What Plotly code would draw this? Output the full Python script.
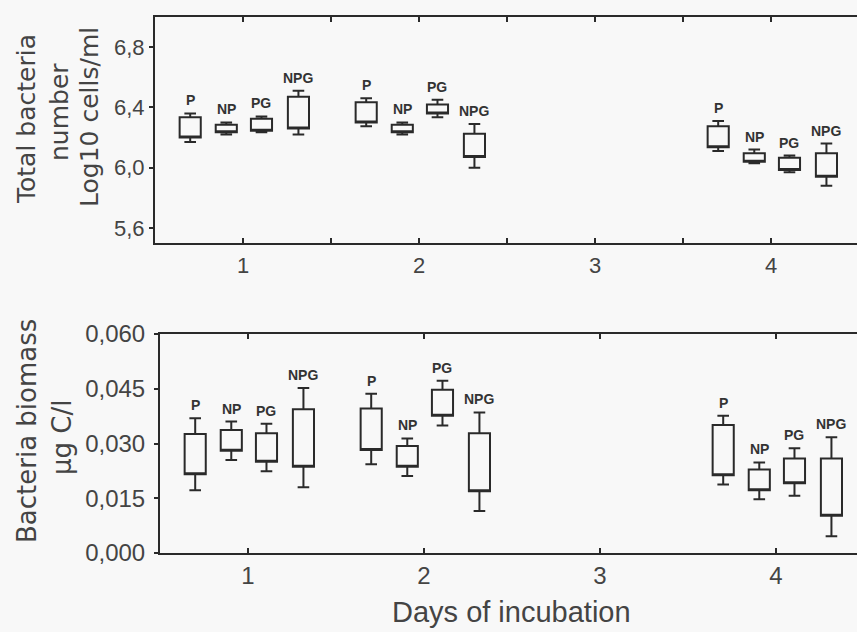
import plotly.graph_objects as go

W, H = 857, 632
INK = "#2a2a2a"
TEXT = "#444444"
BG = "#f8f8f8"

DAYS = [1, 2, 4]
GROUPS = ["P", "NP", "PG", "NPG"]
GROUP_OFFSET = [-0.3, -0.095, 0.105, 0.315]

# Total bacteria number, Log10 cells/ml  (day 1 P..NPG, day 2 P..NPG, day 4 P..NPG)
tbn_upper = [6.36, 6.30, 6.34, 6.51, 6.46, 6.30, 6.45, 6.29, 6.31, 6.12, 6.08, 6.16]
tbn_q3 = [6.335, 6.285, 6.325, 6.47, 6.435, 6.285, 6.42, 6.225, 6.275, 6.095, 6.065, 6.095]
tbn_q1 = [6.20, 6.235, 6.245, 6.26, 6.30, 6.235, 6.36, 6.07, 6.135, 6.04, 5.985, 5.94]
tbn_lower = [6.17, 6.22, 6.235, 6.22, 6.275, 6.22, 6.335, 6.00, 6.11, 6.03, 5.97, 5.88]

# Bacteria biomass, ug C/l
bb_upper = [0.0369, 0.0360, 0.0354, 0.0452, 0.0436, 0.0314, 0.0472, 0.0385, 0.0376, 0.0248, 0.0287, 0.0317]
bb_q3 = [0.0326, 0.0337, 0.0328, 0.0394, 0.0396, 0.0293, 0.0447, 0.0328, 0.0351, 0.0229, 0.0259, 0.0259]
bb_q1 = [0.0216, 0.0280, 0.0250, 0.0236, 0.0282, 0.0236, 0.0376, 0.0169, 0.0213, 0.0172, 0.0191, 0.0102]
bb_lower = [0.0172, 0.0255, 0.0224, 0.0180, 0.0243, 0.0211, 0.0349, 0.0115, 0.0188, 0.0147, 0.0157, 0.0046]

positions = [d + off for d in DAYS for off in GROUP_OFFSET]
labels = [g for d in DAYS for g in GROUPS]


def box_trace(q1, q3, lo, hi, xa, ya):
    return go.Box(
        x=positions, q1=q1, median=q1, q3=q3, lowerfence=lo, upperfence=hi,
        xaxis=xa, yaxis=ya, width=0.12, whiskerwidth=0.55,
        line=dict(color=INK, width=2), fillcolor="rgba(0,0,0,0)",
        boxpoints=False, showlegend=False,
    )


fig = go.Figure()
fig.add_trace(box_trace(tbn_q1, tbn_q3, tbn_lower, tbn_upper, "x", "y"))
fig.add_trace(box_trace(bb_q1, bb_q3, bb_lower, bb_upper, "x2", "y2"))

annotations = []
for xr, yr, tops in [("x", "y", tbn_upper), ("x2", "y2", bb_upper)]:
    for xp, yp, t in zip(positions, tops, labels):
        annotations.append(dict(
            x=xp, y=yp, xref=xr, yref=yr, text=t, showarrow=False,
            yanchor="bottom", yshift=3,
            font=dict(family="Liberation Sans", size=14, color="#333333", weight="bold"),
        ))


def side_title(text, px, py, size):
    return dict(
        x=px / W, y=1 - py / H, xref="paper", yref="paper", text=text,
        showarrow=False, textangle=-90, xanchor="center", yanchor="middle",
        font=dict(family="DejaVu Sans", size=size, color=TEXT),
    )


annotations += [
    side_title("Total bacteria", 26, 119, 25),
    side_title("number", 59, 112, 25),
    side_title("Log10 cells/ml", 90, 117, 25),
    side_title("Bacteria biomass", 27, 431, 26),
    side_title("µg C/l", 62, 437, 26),
    dict(x=511 / W, y=1 - 612 / H, xref="paper", yref="paper", text="Days of incubation",
         showarrow=False, xanchor="center", yanchor="middle",
         font=dict(family="Liberation Sans", size=29, color=TEXT)),
]

xcommon = dict(
    tickvals=[1, 2, 3, 4], ticks="inside", ticklen=5, tickwidth=1.5, tickcolor=INK,
    showline=True, linecolor=INK, linewidth=2, mirror="ticks", automargin=False,
    showgrid=False, zeroline=False,
)
ycommon = dict(
    ticks="outside", ticklen=4, tickwidth=1.5, tickcolor=INK, automargin=False,
    showline=True, linecolor=INK, linewidth=2,
    showgrid=False, zeroline=False,
)

fig.update_layout(
    width=W, height=H, autosize=False,
    margin=dict(l=0, r=0, t=0, b=0, pad=0),
    paper_bgcolor=BG, plot_bgcolor=BG,
    separators=", ",
    xaxis=dict(xcommon, domain=[155 / W, 1], range=[0.5, 0.5 + (W - 155) / 176], anchor="y",
               minor=dict(ticks="inside", ticklen=5, tickwidth=1.5, tickcolor=INK, dtick=0.5, tick0=0.5),
               ticklabelstandoff=2,
               tickfont=dict(family="Liberation Sans", size=22, color=TEXT)),
    yaxis=dict(ycommon, domain=[1 - 243 / H, 1 - 17 / H], range=[5.5, 7.0], anchor="x",
               tickvals=[5.6, 6.0, 6.4, 6.8], tickformat=".1f",
               tickfont=dict(family="Liberation Sans", size=22, color=TEXT)),
    xaxis2=dict(xcommon, domain=[160 / W, 1], range=[0.5, 0.5 + (W - 160) / 176], anchor="y2",
                ticklabelstandoff=0,
                tickfont=dict(family="Liberation Sans", size=24, color=TEXT)),
    yaxis2=dict(ycommon, domain=[1 - 553 / H, 1 - 334 / H], range=[0, 0.06], anchor="x2",
                tickvals=[0, 0.015, 0.03, 0.045, 0.06], tickformat=".3f", ticklabelstandoff=4,
                tickfont=dict(family="Liberation Sans", size=24, color=TEXT)),
    annotations=annotations,
)

# the page's default 8px body margin would push the fixed-size figure off the window
fig.write_html("out.html", config={"displayModeBar": False},
               post_script="document.body.style.margin='0';")
